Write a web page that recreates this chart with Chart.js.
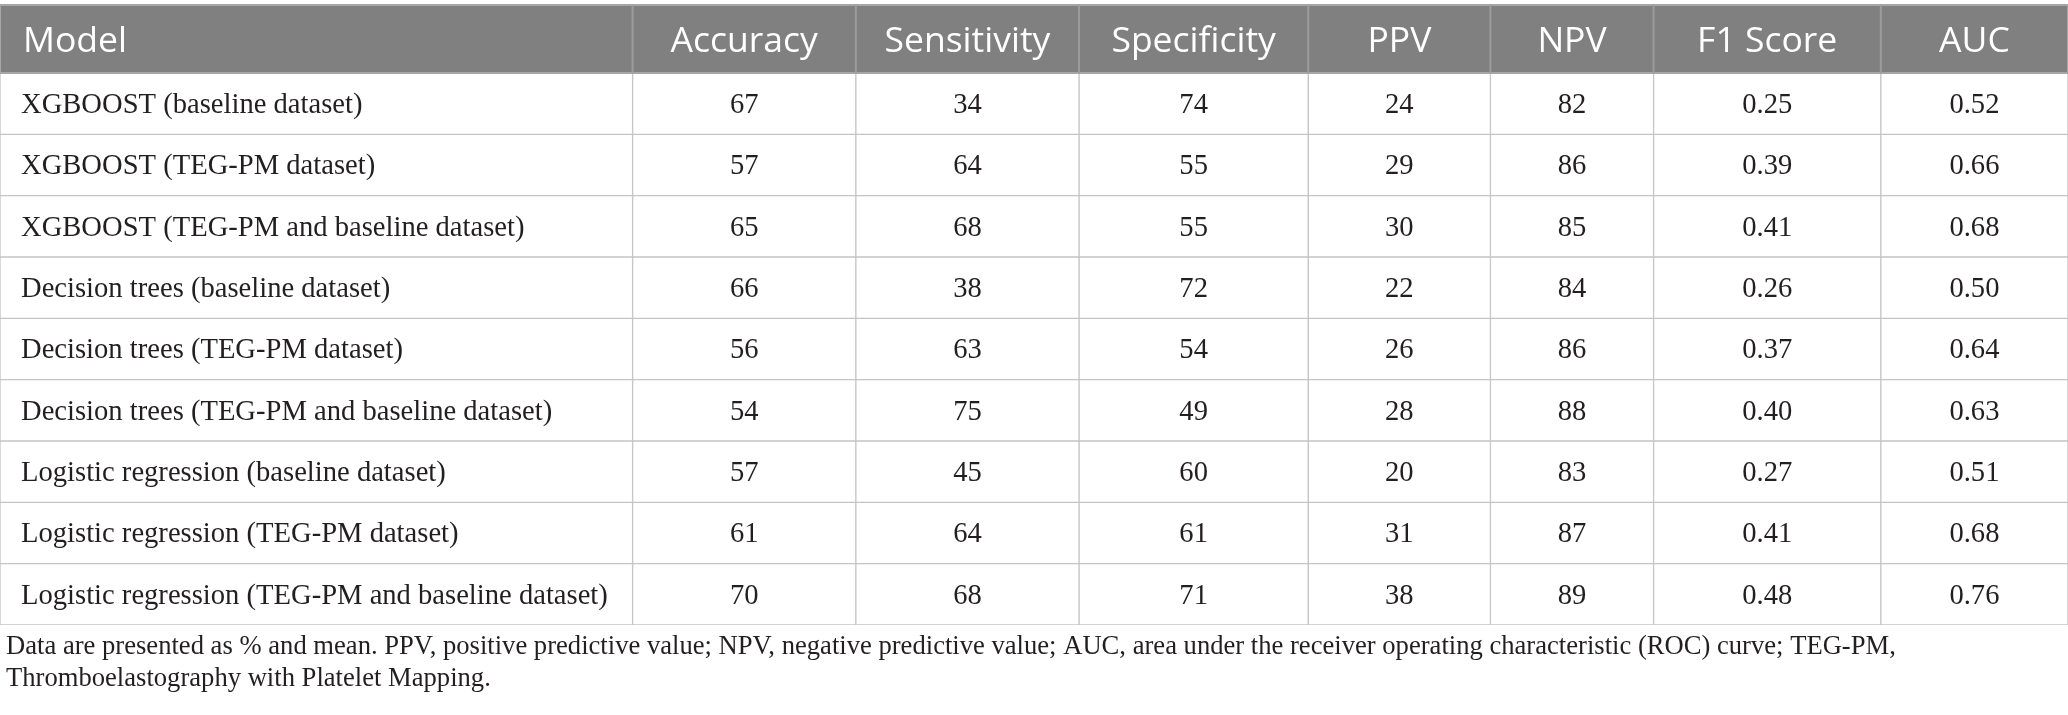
<!DOCTYPE html>
<html>
<head>
<meta charset="utf-8">
<script src="https://cdn.jsdelivr.net/npm/chart.js@4.4.1/dist/chart.umd.min.js"></script>
<style>
  html, body { margin: 0; padding: 0; background: #ffffff; }
  #wrap { position: relative; width: 2068px; height: 715px; }
</style>
</head>
<body>
<div id="wrap"><canvas id="chart"></canvas></div>
<script>
// table contents
const headers = ['Model', 'Accuracy', 'Sensitivity', 'Specificity', 'PPV', 'NPV', 'F1 Score', 'AUC'];
const models = [
  'XGBOOST (baseline dataset)',
  'XGBOOST (TEG-PM dataset)',
  'XGBOOST (TEG-PM and baseline dataset)',
  'Decision trees (baseline dataset)',
  'Decision trees (TEG-PM dataset)',
  'Decision trees (TEG-PM and baseline dataset)',
  'Logistic regression (baseline dataset)',
  'Logistic regression (TEG-PM dataset)',
  'Logistic regression (TEG-PM and baseline dataset)'
];
const accuracy    = [67, 57, 65, 66, 56, 54, 57, 61, 70];
const sensitivity = [34, 64, 68, 38, 63, 75, 45, 64, 68];
const specificity = [74, 55, 55, 72, 54, 49, 60, 61, 71];
const ppv         = [24, 29, 30, 22, 26, 28, 20, 31, 38];
const npv         = [82, 86, 85, 84, 86, 88, 83, 87, 89];
const f1Score     = [0.25, 0.39, 0.41, 0.26, 0.37, 0.40, 0.27, 0.41, 0.48];
const auc         = [0.52, 0.66, 0.68, 0.50, 0.64, 0.63, 0.51, 0.68, 0.76];
const footnote = [
  'Data are presented as % and mean. PPV, positive predictive value; NPV, negative predictive value; AUC, area under the receiver operating characteristic (ROC) curve; TEG-PM,',
  'Thromboelastography with Platelet Mapping.'
];

// layout (column widths in px, kept apart from the data)
const colWidths = [632, 223, 223, 229, 182, 163, 227, 187];
const gridColor = '#c4c4c4';
const headFill = '#808080';
const inkColor = '#231f20';

const columns = [
  models,
  accuracy.map(String),
  sensitivity.map(String),
  specificity.map(String),
  ppv.map(String),
  npv.map(String),
  f1Score.map((v) => v.toFixed(2)),
  auc.map((v) => v.toFixed(2))
];

// {{{ fitSize()
function fitSize(text, family, target)
{
  const ctx = document.createElement('canvas').getContext('2d');
  ctx.font = '100px ' + family;
  return 100 * target / ctx.measureText(text).width;
}
// }}}

const serif = '"Liberation Serif", "DejaVu Serif", serif';
const sans = '"Open Sans", "Noto Sans", sans-serif';
const bodySize = fitSize(models[8], serif, 587);
const headSize = fitSize('Model', sans, 104);
const noteSize = fitSize(footnote[0], serif, 1890);

// {{{ tablePlugin
const tablePlugin =
{
  id: 'table',
  afterDatasetsDraw(chart)
  {
    const ctx = chart.ctx;
    const area = chart.chartArea;
    const x = chart.scales.x;
    const top = 5;
    ctx.save();
    // header band
    ctx.fillStyle = headFill;
    ctx.fillRect(area.left, top, area.right - area.left, area.top - top);
    ctx.strokeStyle = '#a6a6a6';
    ctx.lineWidth = 2;
    ctx.strokeRect(area.left, top, area.right - area.left, area.top - top);
    let edge = 0;
    ctx.font = headSize + 'px ' + sans;
    ctx.fillStyle = '#ffffff';
    const headBase = (top + area.top) / 2 + headSize * 0.357;
    for (let i = 0; i < headers.length; i++)
    {
      const x0 = x.getPixelForValue(edge);
      edge += colWidths[i];
      const x1 = x.getPixelForValue(edge);
      if (i > 0)
      {
        ctx.strokeStyle = '#9c9c9c';
        ctx.beginPath();
        ctx.moveTo(x0, top);
        ctx.lineTo(x0, area.top);
        ctx.stroke();
        ctx.textAlign = 'center';
        ctx.fillText(headers[i], (x0 + x1) / 2, headBase);
      }
      else
      {
        ctx.textAlign = 'left';
        ctx.fillText(headers[i], x0 + 23, headBase);
      }
    }
    // cell texts
    ctx.font = bodySize + 'px ' + serif;
    ctx.fillStyle = inkColor;
    ctx.textBaseline = 'alphabetic';
    chart.data.datasets.forEach((ds, i) =>
    {
      chart.getDatasetMeta(i).data.forEach((bar, j) =>
      {
        const p = bar.getProps(['x', 'y', 'base'], true);
        const base = p.y + bodySize * 0.33;
        if (i == 0)
        {
          ctx.textAlign = 'left';
          ctx.fillText(columns[i][j], Math.min(p.x, p.base) + 21, base);
        }
        else
        {
          ctx.textAlign = 'center';
          ctx.fillText(columns[i][j], (p.x + p.base) / 2, base);
        }
      });
    });
    // footnote
    ctx.font = noteSize + 'px ' + serif;
    ctx.textAlign = 'left';
    ctx.fillText(footnote[0], 6, area.bottom + 29);
    ctx.fillText(footnote[1], 6, area.bottom + 61);
    ctx.restore();
  }
};
// }}}

new Chart(document.getElementById('chart'),
{
  type: 'bar',
  data:
  {
    labels: models,
    datasets: headers.map((h, i) => ({
      label: h,
      data: models.map(() => colWidths[i]),
      backgroundColor: '#ffffff',
      borderColor: gridColor,
      borderWidth: 1,
      borderSkipped: false,
      barPercentage: 1,
      categoryPercentage: 1
    }))
  },
  options:
  {
    indexAxis: 'y',
    responsive: true,
    maintainAspectRatio: false,
    animation: false,
    events: [],
    layout: {padding: {top: 73, bottom: 90, left: 0, right: 0}},
    plugins: {legend: {display: false}, tooltip: {enabled: false}, title: {display: false}},
    scales:
    {
      x: {type: 'linear', stacked: true, min: 0, max: colWidths.reduce((a, b) => a + b, 0), display: false},
      y: {type: 'category', stacked: true, display: false}
    }
  },
  plugins: [tablePlugin]
});
</script>
</body>
</html>
